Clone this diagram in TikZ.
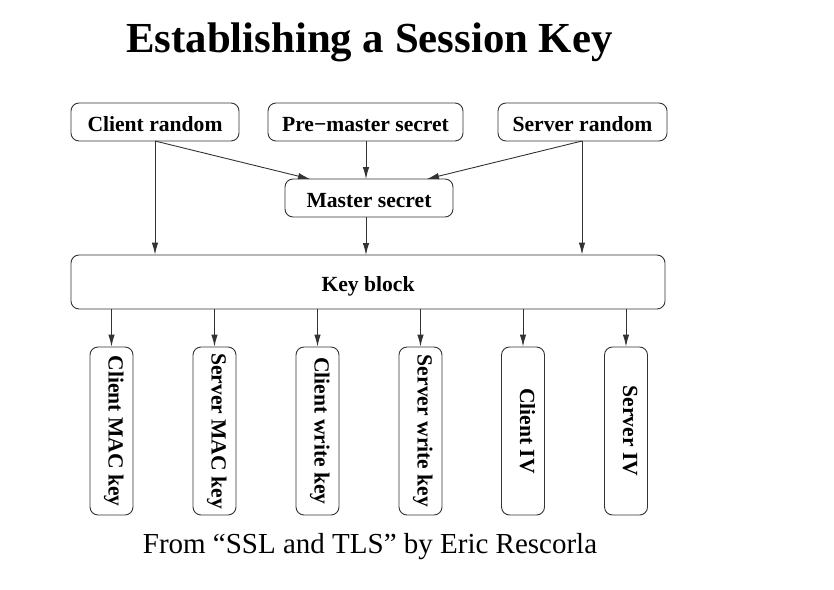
\documentclass[tikz,border=0pt]{standalone}
\usepackage{fontspec}
\setmainfont{Liberation Serif}
\usetikzlibrary{arrows.meta}
\begin{document}
\begin{tikzpicture}[x=1pt,y=-1pt,
  box/.style={draw=black!80, line width=0.9pt, rounded corners=8pt, inner sep=0pt,
    text height=18pt, text depth=0pt,
    font=\fontsize{21.6}{23}\selectfont\bfseries},
  vbox/.style={box, rotate=-90, minimum width=168pt, minimum height=43pt,
    text height=12pt, text depth=6pt},
  arr/.style={draw=black!80, line width=0.9pt, -{Latex[length=12pt,width=6.5pt]}}]
\useasboundingbox (0,0) rectangle (834,589);
\node[font=\fontsize{42.8}{46}\selectfont\bfseries] (title) at (369.5,42) {Establishing a Session Key};
\node[box, minimum width=168pt, minimum height=38pt] (cr) at (155,122) {Client random};
\node[box, minimum width=195pt, minimum height=38pt] (pm) at (365.5,122) {Pre\textminus master secret};
\node[box, minimum width=169pt, minimum height=38pt] (sr) at (582.5,122) {Server random};
\node[box, minimum width=168pt, minimum height=38pt] (ms) at (369,198) {Master secret};
\node[box, minimum width=594pt, minimum height=54pt] (kb) at (368,282) {Key block};
\node[vbox] (v1) at (111.5,431) {Client MAC key};
\node[vbox] (v2) at (214.5,431) {Server MAC key};
\node[vbox] (v3) at (317.5,431) {Client write key};
\node[vbox] (v4) at (420.5,431) {Server write key};
\node[vbox] (v5) at (523,431) {Client IV};
\node[vbox] (v6) at (626,431) {Server IV};
\node[font=\fontsize{29}{31}\selectfont] (cap) at (370,547) {From “SSL and TLS” by Eric Rescorla};
% connectors
\coordinate (crb) at (155,141);
\coordinate (srb) at (582,141);
\draw[arr] (crb) -- (crb |- kb.north);
\draw[arr] (crb) -- (310,179);
\draw[arr] (pm.south -| 366,0) -- (366,179);
\draw[arr] (srb) -- (427,179);
\draw[arr] (srb) -- (srb |- kb.north);
\draw[arr] (ms.south -| 366,0) -- (366,255);
\foreach \v/\x in {v1/111.5,v2/214.5,v3/317.5,v4/420.5,v5/523,v6/626}{
  \draw[arr] (\x,309) -- (\v.west);
}
\end{tikzpicture}
\end{document}
